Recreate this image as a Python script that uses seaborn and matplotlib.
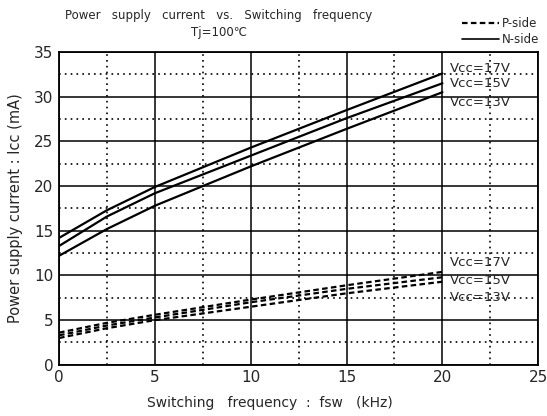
import matplotlib.pyplot as plt
import numpy as np
import pandas as pd
import seaborn as sns
from matplotlib.lines import Line2D

# values
fsw = [0, 2.5, 5, 10, 15, 20]
vcc_labels = ['Vcc=17V', 'Vcc=15V', 'Vcc=13V']

n_side = {
    'Vcc=17V': [14.2, 17.3, 19.9, 24.3, 28.5, 32.6],
    'Vcc=15V': [13.3, 16.6, 19.2, 23.4, 27.6, 31.5],
    'Vcc=13V': [12.2, 15.2, 17.8, 22.2, 26.4, 30.5],
}
p_side = {
    'Vcc=17V': [3.6, 4.7, 5.6, 7.3, 8.9, 10.4],
    'Vcc=15V': [3.3, 4.4, 5.3, 7.0, 8.5, 9.8],
    'Vcc=13V': [3.0, 4.1, 5.0, 6.5, 8.0, 9.3],
}

rows = []
for side, d in [('N-side', n_side), ('P-side', p_side)]:
    for v in vcc_labels:
        for f, i in zip(fsw, d[v]):
            rows.append({'fsw': f, 'icc': i, 'side': side, 'series': side + v})
df = pd.DataFrame(rows)

sns.set_style('white')
plt.rcParams['font.family'] = ['DejaVu Sans']

fig = plt.figure(figsize=(5.47, 4.16), dpi=100)
ax = fig.add_axes([0.108, 0.123, 0.876, 0.752])

sns.lineplot(data=df, x='fsw', y='icc', hue='series', style='side',
             palette=['black'] * 6, dashes={'N-side': '', 'P-side': (2.5, 1.5)},
             linewidth=1.6, legend=False, ax=ax)

ax.set_xlim(0, 25)
ax.set_ylim(0, 35)
ax.set_xticks(np.arange(0, 26, 5))
ax.set_yticks(np.arange(0, 36, 5))
ax.set_xticks(np.arange(2.5, 25, 5), minor=True)
ax.set_yticks(np.arange(2.5, 35, 5), minor=True)
ax.grid(which='major', color='black', linewidth=1.1)
ax.grid(which='minor', color='black', linewidth=1.2, linestyle=(0, (1, 2.5)))
ax.tick_params(which='both', length=0, labelsize=11, pad=4)
for s in ax.spines.values():
    s.set_color('black')
    s.set_linewidth(1.3)

ax.set_xlabel('Switching   frequency  :  fsw   (kHz)', fontsize=10)
ax.xaxis.set_label_coords(0.44, -0.1)
ax.set_ylabel('Power supply current : Icc (mA)', fontsize=10.5, labelpad=8)

# curve labels
for v, yy in zip(vcc_labels, [33.1, 31.5, 29.3]):
    ax.text(20.4, yy, v, fontsize=9.5, va='center', ha='left')
for v, yy in zip(vcc_labels, [11.4, 9.4, 7.5]):
    ax.text(20.4, yy, v, fontsize=9.5, va='center', ha='left')

fig.text(0.40, 0.962, 'Power   supply   current   vs.   Switching   frequency',
         fontsize=8.5, ha='center', va='center')
fig.text(0.40, 0.921, 'Tj=100℃', fontsize=8.5, ha='center', va='center')

handles = [Line2D([], [], color='black', linestyle=(0, (2.5, 1.5)), linewidth=1.6),
           Line2D([], [], color='black', linewidth=1.2)]
fig.legend(handles, ['P-side', 'N-side'], loc='upper right',
           bbox_to_anchor=(1.005, 0.985), frameon=False, fontsize=8.5,
           handlelength=3.2, handletextpad=0.2, labelspacing=0.3)

plt.savefig('out.png', dpi=100)
